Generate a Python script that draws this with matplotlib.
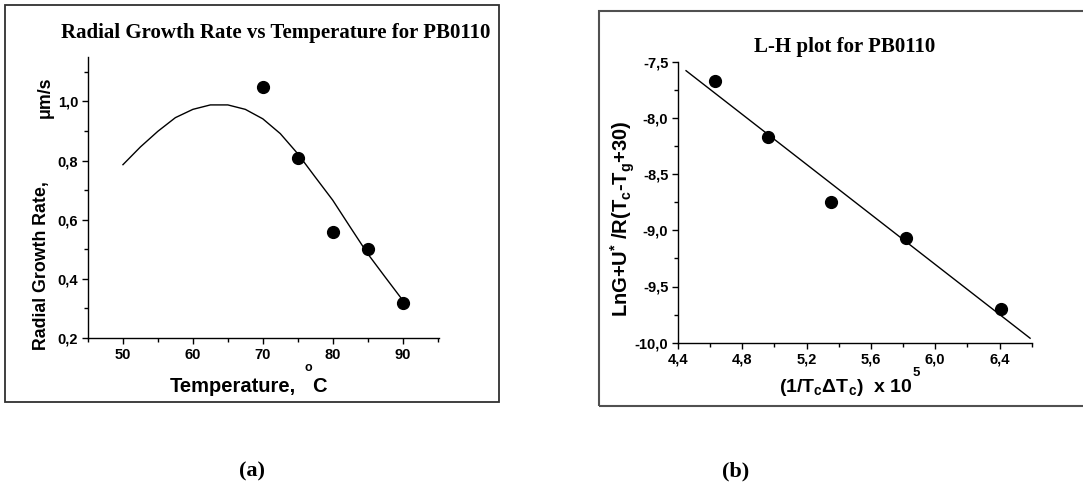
import matplotlib.pyplot as plt
from matplotlib.patches import Rectangle
from matplotlib.ticker import MultipleLocator

plt.rcParams['font.family'] = 'Liberation Sans'
plt.rcParams['mathtext.fontset'] = 'custom'
plt.rcParams['mathtext.rm'] = 'Liberation Sans:bold'
plt.rcParams['mathtext.it'] = 'Liberation Sans:bold'
plt.rcParams['mathtext.bf'] = 'Liberation Sans:bold'

# (a) radial growth rate data
temp_pts = [70, 75, 80, 85, 90]
rate_pts = [1.05, 0.81, 0.56, 0.50, 0.32]
temp_fit = [50, 52.5, 55, 57.5, 60, 62.5, 65, 67.5, 70, 72.5, 75, 77.5, 80, 82.5, 85, 87.5, 90]
rate_fit = [0.786, 0.846, 0.899, 0.945, 0.973, 0.988, 0.988, 0.973, 0.941,
            0.891, 0.823, 0.744, 0.666, 0.575, 0.485, 0.406, 0.328]

# (b) L-H plot data
lh_x = [4.63, 4.96, 5.35, 5.82, 6.41]
lh_y = [-7.67, -8.17, -8.75, -9.07, -9.70]
lh_fit_x = [4.45, 6.59]
lh_fit_y = [-7.58, -9.96]

# tick labels (comma decimals)
a_xticks = [50, 60, 70, 80, 90]
a_xlabels = ["50", "60", "70", "80", "90"]
a_yticks = [0.2, 0.4, 0.6, 0.8, 1.0]
a_ylabels = ["0,2", "0,4", "0,6", "0,8", "1,0"]
b_xticks = [4.4, 4.8, 5.2, 5.6, 6.0, 6.4]
b_xlabels = ["4,4", "4,8", "5,2", "5,6", "6,0", "6,4"]
b_yticks = [-10.0, -9.5, -9.0, -8.5, -8.0, -7.5]
b_ylabels = ["-10,0", "-9,5", "-9,0", "-8,5", "-8,0", "-7,5"]

W, H = 1083, 491
fig = plt.figure(figsize=(W / 100, H / 100), dpi=100)


def rect(x0, y0, x1, y1):
    return [x0 / W, 1 - y1 / H, (x1 - x0) / W, (y1 - y0) / H]


def style(ax):
    for s in ["top", "right"]:
        ax.spines[s].set_visible(False)
    for s in ["left", "bottom"]:
        ax.spines[s].set_linewidth(1.0)
    ax.tick_params(which="major", direction="out", length=4, width=1, labelsize=10.5, pad=3)
    ax.tick_params(which="minor", direction="out", length=3, width=1)
    for lab in ax.get_xticklabels() + ax.get_yticklabels():
        lab.set_fontweight("bold")


# frames around each panel
fig.patches.append(Rectangle((5 / W, 1 - 402 / H), 494 / W, 397 / H, transform=fig.transFigure,
                             fill=False, ec="#303030", lw=1.3))
fig.patches.append(Rectangle((599 / W, 1 - 406 / H), 520 / W, 395 / H, transform=fig.transFigure,
                             fill=False, ec="#505050", lw=1.5))

# panel (a)
ax1 = fig.add_axes(rect(88, 57, 439, 338))
ax1.plot(temp_fit, rate_fit, color="black", lw=1.0)
ax1.plot(temp_pts, rate_pts, "o", color="black", ms=8.5)
ax1.set_xlim(45, 95.2)
ax1.set_ylim(0.2, 1.15)
ax1.set_xticks(a_xticks, a_xlabels)
ax1.set_yticks(a_yticks, a_ylabels)
ax1.xaxis.set_minor_locator(MultipleLocator(5))
ax1.yaxis.set_minor_locator(MultipleLocator(0.1))
style(ax1)

fig.text(276 / W, 1 - 33 / H, "Radial Growth Rate vs Temperature for PB0110", family="Liberation Serif",
         weight="bold", fontsize=15, ha="center", va="center")
fig.text(42 / W, 1 - 350 / H, "Radial Growth Rate,", rotation=90, ha="center", va="bottom",
         fontsize=12.8, weight="bold")
fig.text(45 / W, 1 - 97 / H, "μm/s", rotation=90, ha="center", va="center", fontsize=12.8, weight="bold")
fig.text(170 / W, 1 - 387 / H, "Temperature,", ha="left", va="center", fontsize=14.5, weight="bold")
fig.text(319 / W, 1 - 387 / H, "C", ha="center", va="center", fontsize=14.5, weight="bold")
fig.text(308 / W, 1 - 368 / H, "o", ha="center", va="center", fontsize=9, weight="bold")

# panel (b)
ax2 = fig.add_axes(rect(678, 61.7, 1031.7, 342.7))
ax2.plot(lh_fit_x, lh_fit_y, color="black", lw=1.0)
ax2.plot(lh_x, lh_y, "o", color="black", ms=8.5)
ax2.set_xlim(4.4, 6.6)
ax2.set_ylim(-10.0, -7.5)
ax2.set_xticks(b_xticks, b_xlabels)
ax2.set_yticks(b_yticks, b_ylabels)
ax2.xaxis.set_minor_locator(MultipleLocator(0.2))
ax2.yaxis.set_minor_locator(MultipleLocator(0.25))
style(ax2)

fig.text(845 / W, 1 - 47 / H, "L-H plot for PB0110", family="Liberation Serif",
         weight="bold", fontsize=15, ha="center", va="center")
fig.text(623 / W, 1 - 219 / H, r"LnG+U$^{*}$ /R(T$_{c}$-T$_{g}$+30)", rotation=90, ha="center",
         va="center", fontsize=14.5, weight="bold")
fig.text(846 / W, 1 - 388 / H, r"(1/T$_{c}$ΔT$_{c}$)  x 10", ha="center", va="center",
         fontsize=14, weight="bold")
fig.text(916 / W, 1 - 373 / H, "5", ha="center", va="center", fontsize=9.5, weight="bold")

# panel captions
fig.text(252 / W, 1 - 471 / H, "(a)", family="Liberation Serif", weight="bold", fontsize=16,
         ha="center", va="center")
fig.text(736 / W, 1 - 471 / H, "(b)", family="Liberation Serif", weight="bold", fontsize=16,
         ha="center", va="center")

fig.savefig("out.png", dpi=100)
